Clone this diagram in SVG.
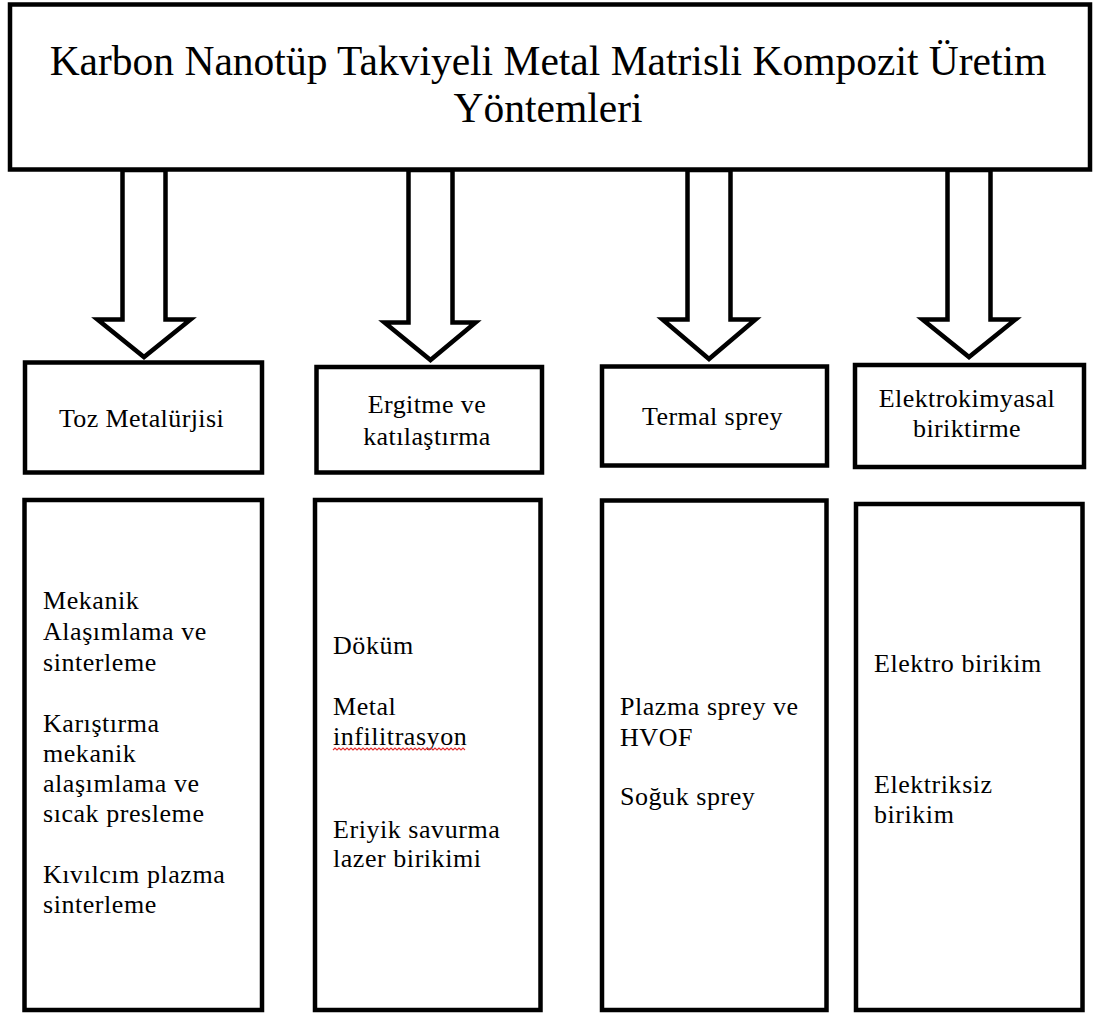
<svg xmlns="http://www.w3.org/2000/svg" width="1093" height="1034" viewBox="0 0 1093 1034">
<style>
.box{fill:#fff;stroke:#000;stroke-width:4.5}
.arr{fill:#fff;stroke:#000;stroke-width:4.5;stroke-linejoin:miter;stroke-miterlimit:10}
.t{font-family:"Liberation Serif","Times New Roman",serif;fill:#000}
.title{font-size:41.5px;text-anchor:middle}
.lbl{font-size:26px;letter-spacing:0.4px;text-anchor:middle}
.item{font-size:26px;letter-spacing:0.55px}
.sq{fill:none;stroke:#e03030;stroke-width:1.1}
</style>
<rect width="1093" height="1034" fill="#fff"/>
<g id="connectors">
<polygon class="arr" points="122.5,170 165.5,170 165.5,319.5 190.5,319.5 144,357 97.5,319.5 122.5,319.5"/>
<polygon class="arr" points="408.5,170 452.5,170 452.5,322.5 475.5,322.5 430.5,360 384.5,322.5 408.5,322.5"/>
<polygon class="arr" points="687.5,170 730.5,170 730.5,319.5 755.5,319.5 709,359 662.5,319.5 687.5,319.5"/>
<polygon class="arr" points="947.5,170 990.5,170 990.5,319.5 1015.5,319.5 969,357 922.5,319.5 947.5,319.5"/>
</g>
<g id="title">
<rect class="box" x="10" y="4.5" width="1080" height="165"/>
<text class="t title" x="548" y="75">Karbon Nanotüp Takviyeli Metal Matrisli Kompozit Üretim</text>
<text class="t title" x="548" y="122">Yöntemleri</text>
</g>
<g id="toz">
<rect class="box" x="25" y="362.5" width="237" height="110"/>
<text class="t lbl" x="141.5" y="427">Toz Metalürjisi</text>
</g>
<g id="ergitme">
<rect class="box" x="316.5" y="367" width="225.5" height="105.5"/>
<text class="t lbl" x="427" y="413">Ergitme ve</text>
<text class="t lbl" x="427" y="445">katılaştırma</text>
</g>
<g id="termal">
<rect class="box" x="602" y="366.5" width="225" height="99"/>
<text class="t lbl" x="712.5" y="425">Termal sprey</text>
</g>
<g id="elektrokimyasal">
<rect class="box" x="855" y="365" width="229" height="102"/>
<text class="t lbl" x="967" y="407">Elektrokimyasal</text>
<text class="t lbl" x="967" y="437">biriktirme</text>
</g>
<g id="toz-list">
<rect class="box" x="24.5" y="500" width="237.5" height="510"/>
<text class="t item" x="43" y="609">Mekanik</text>
<text class="t item" x="43" y="640">Alaşımlama ve</text>
<text class="t item" x="43" y="671">sinterleme</text>
<text class="t item" x="43" y="732">Karıştırma</text>
<text class="t item" x="43" y="762">mekanik</text>
<text class="t item" x="43" y="792">alaşımlama ve</text>
<text class="t item" x="43" y="822">sıcak presleme</text>
<text class="t item" x="43" y="883">Kıvılcım plazma</text>
<text class="t item" x="43" y="913">sinterleme</text>
</g>
<g id="ergitme-list">
<rect class="box" x="315" y="500" width="225.5" height="510"/>
<text class="t item" x="333" y="654">Döküm</text>
<text class="t item" x="333" y="715">Metal</text>
<text class="t item" x="333" y="745">infilitrasyon</text>
<path class="sq" d="M333,750 l2,-2 2,2 2,-2 2,2 2,-2 2,2 2,-2 2,2 2,-2 2,2 2,-2 2,2 2,-2 2,2 2,-2 2,2 2,-2 2,2 2,-2 2,2 2,-2 2,2 2,-2 2,2 2,-2 2,2 2,-2 2,2 2,-2 2,2 2,-2 2,2 2,-2 2,2 2,-2 2,2 2,-2 2,2 2,-2 2,2 2,-2 2,2 2,-2 2,2 2,-2 2,2 2,-2 2,2 2,-2 2,2 2,-2 2,2 2,-2 2,2 2,-2 2,2 2,-2 2,2 2,-2 2,2 2,-2 2,2 2,-2 2,2 2,-2 2,2"/>
<text class="t item" x="333" y="838">Eriyik savurma</text>
<text class="t item" x="333" y="867">lazer birikimi</text>
</g>
<g id="termal-list">
<rect class="box" x="602" y="500.5" width="224.5" height="509.5"/>
<text class="t item" x="620" y="715">Plazma sprey ve</text>
<text class="t item" x="620" y="746">HVOF</text>
<text class="t item" x="620" y="805">Soğuk sprey</text>
</g>
<g id="elektro-list">
<rect class="box" x="856" y="504" width="226.5" height="506"/>
<text class="t item" x="874" y="672">Elektro birikim</text>
<text class="t item" x="874" y="793">Elektriksiz</text>
<text class="t item" x="874" y="823">birikim</text>
</g>
</svg>
